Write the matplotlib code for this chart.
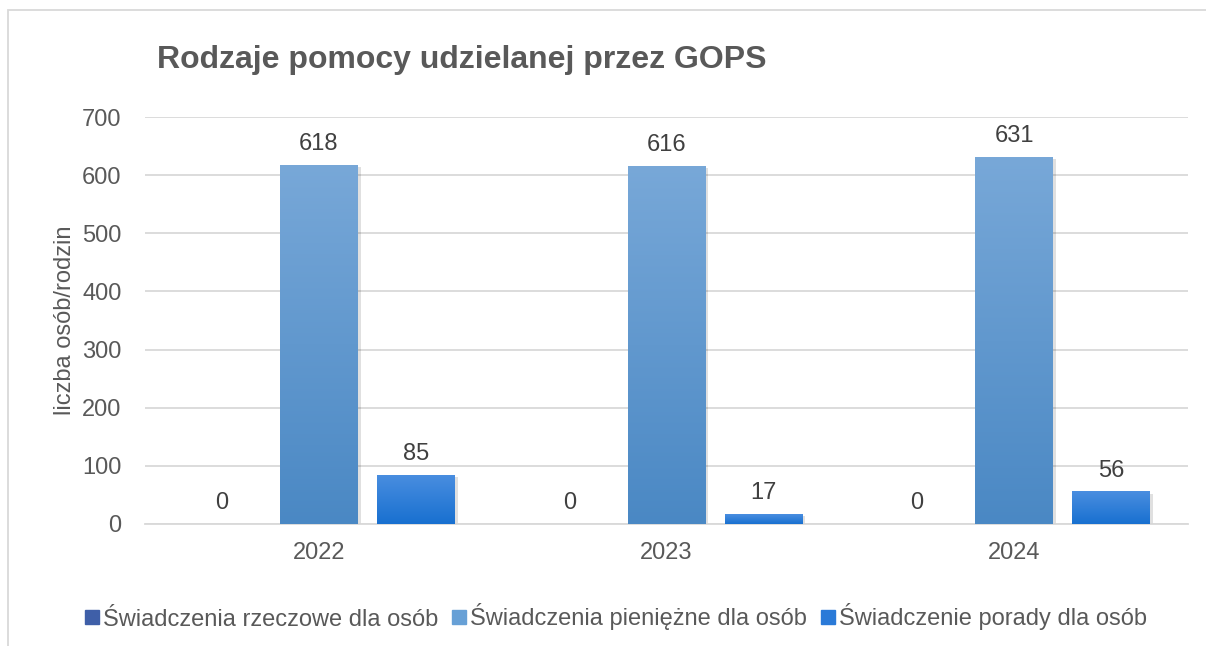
import numpy as np
import matplotlib
matplotlib.use("Agg")
import matplotlib.pyplot as plt
from matplotlib.colors import LinearSegmentedColormap
from matplotlib.patches import Rectangle
from matplotlib.lines import Line2D

plt.rcParams['font.family'] = ['Liberation Sans', 'DejaVu Sans']

years = ['2022', '2023', '2024']
series_names = ['Świadczenia rzeczowe dla osób',
                'Świadczenia pieniężne dla osób',
                'Świadczenie porady dla osób']
rzeczowe = [0, 0, 0]
pieniezne = [618, 616, 631]
porady = [85, 17, 56]
values = [rzeczowe, pieniezne, porady]

# gradient colours (top, bottom) and legend colour per series
grads = [('#5070c0', '#3a58a0'), ('#78a8d8', '#4a88c4'), ('#4a8ee0', '#1870d0')]
legend_cols = ['#3f5fa8', '#67a0d6', '#2a7ad8']

fig = plt.figure(figsize=(12.06, 6.46), dpi=100)
ax = fig.add_axes([145 / 1206, 1 - 524 / 646, 1043 / 1206, 407 / 646])

width = 0.224
offset = 0.279
x = np.arange(len(years))

for i, (vals, (c_top, c_bot)) in enumerate(zip(values, grads)):
    cmap = LinearSegmentedColormap.from_list('g%d' % i, [c_bot, c_top])
    for xi, v in zip(x, vals):
        xc = xi + (i - 1) * offset
        if v > 0:
            # soft shadow
            sh = Rectangle((xc - width / 2 + 0.008, -4), width, v, color='#000000',
                           alpha=0.12, lw=0, zorder=2)
            ax.add_patch(sh)
            rect = Rectangle((xc - width / 2, 0), width, v, facecolor='none',
                             edgecolor='none', zorder=3)
            ax.add_patch(rect)
            grad = np.linspace(0, 1, 256).reshape(-1, 1)
            im = ax.imshow(grad, cmap=cmap, aspect='auto', origin='lower',
                           extent=[xc - width / 2, xc + width / 2, 0, v], zorder=3)
            im.set_clip_path(rect)
        ax.text(xc, v + 17, str(v), ha='center', va='bottom', fontsize=17,
                color='#404040', zorder=4)

ax.set_xlim(-0.5, 2.5)
ax.set_ylim(0, 700)
ax.set_yticks(range(0, 701, 100))
ax.set_xticks(x)
ax.set_xticklabels(years)
ax.yaxis.grid(True, color='#d9d9d9', linewidth=1.3)
ax.set_axisbelow(True)
for s in ['top', 'right', 'left']:
    ax.spines[s].set_visible(False)
ax.spines['bottom'].set_color('#d9d9d9')
ax.spines['bottom'].set_linewidth(1.3)
ax.tick_params(axis='both', length=0, labelsize=17, colors='#595959')
ax.tick_params(axis='y', pad=17)
ax.tick_params(axis='x', pad=13)
ax.set_ylabel('liczba osób/rodzin', fontsize=17, color='#595959', labelpad=4)

fig.text(157 / 1206, 1 - 60 / 646, 'Rodzaje pomocy udzielanej przez GOPS',
         fontsize=23, fontweight='bold', color='#595959', va='center')

handles = [Line2D([], [], marker='s', linestyle='none', markersize=10,
                  markerfacecolor=c, markeredgecolor=c) for c in legend_cols]
fig.legend(handles, series_names, loc='center', bbox_to_anchor=(616 / 1206, 1 - 617 / 646),
           ncol=3, frameon=False, fontsize=17, handletextpad=0.15,
           columnspacing=0.6, labelcolor='#595959', handlelength=0.6)

# outer chart frame
fig.patches.append(Rectangle((8 / 1206, -0.01), 1.1, 1 - 10 / 646 + 0.01,
                             transform=fig.transFigure, fill=False,
                             edgecolor='#d9d9d9', linewidth=1.3))

fig.savefig('out.png', dpi=100)
